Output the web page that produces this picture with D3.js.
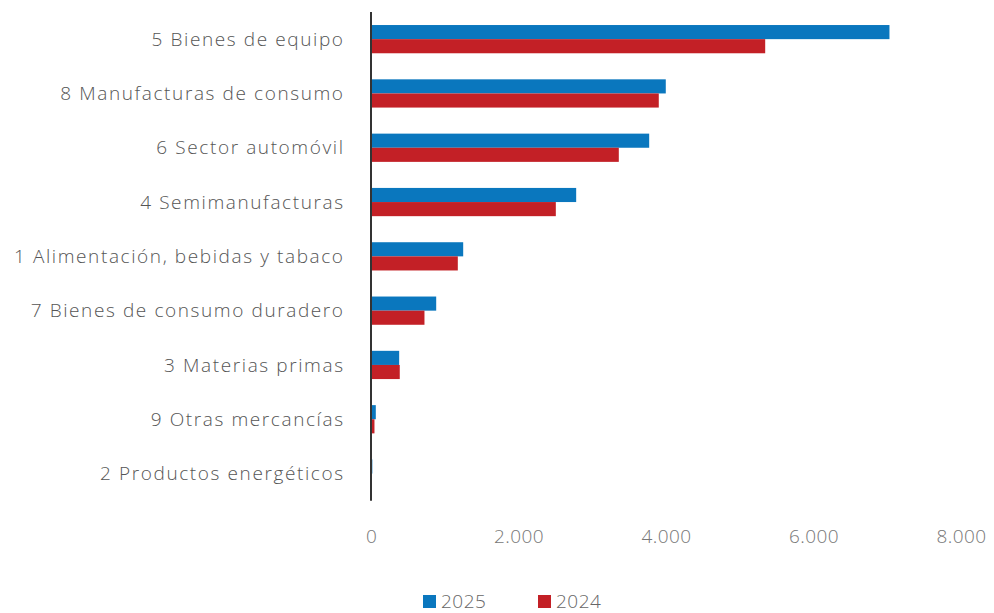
<!DOCTYPE html>
<html>
<head>
<meta charset="utf-8">
<script src="https://cdn.jsdelivr.net/npm/d3@7"></script>
<style>
  html, body { margin: 0; padding: 0; background: #fff; }
  svg text { font-family: "Open Sans", "Lato", sans-serif; font-weight: 300; }
</style>
</head>
<body>
<svg id="chart" width="994" height="613"></svg>
<script>
// Exportaciones por sector (millones de euros)
const categories = [
  "5 Bienes de equipo",
  "8 Manufacturas de consumo",
  "6 Sector automóvil",
  "4 Semimanufacturas",
  "1 Alimentación, bebidas y tabaco",
  "7 Bienes de consumo duradero",
  "3 Materias primas",
  "9 Otras mercancías",
  "2 Productos energéticos"
];
const seriesNames = ["2025", "2024"];
const values2025 = [7030, 3997, 3772, 2782, 1250, 884, 382, 65, 18];
const values2024 = [5345, 3902, 3360, 2506, 1177, 725, 390, 47, 3];
const tickValues = [0, 2000, 4000, 6000, 8000];
const colors = ["#0a77be", "#c32026"];

const svg = d3.select("#chart");
const x0 = 371, x1 = 961;
const yTop = 12, yBottom = 500.7;

const x = d3.scaleLinear().domain([0, 8000]).range([x0, x1]);
const y = d3.scaleBand().domain(categories).range([yTop, yBottom]).paddingInner(0.48).paddingOuter(0.24);
const ySub = d3.scaleBand().domain(seriesNames).range([0, y.bandwidth()]);

const rows = categories.map((c, i) => ({ cat: c, vals: [values2025[i], values2024[i]] }));

// Bars
const groups = svg.append("g").selectAll("g").data(rows).join("g")
  .attr("transform", d => `translate(0,${y(d.cat)})`);
groups.selectAll("rect").data(d => d.vals.map((v, j) => ({ v, j })))
  .join("rect")
  .attr("x", x(0))
  .attr("y", d => ySub(seriesNames[d.j]))
  .attr("width", d => x(d.v) - x(0))
  .attr("height", ySub.bandwidth())
  .attr("fill", d => colors[d.j]);

// Category labels
const labelSpacing = 1.6;
svg.append("g").selectAll("text").data(categories).join("text")
  .attr("x", 343 + labelSpacing)
  .attr("y", d => y(d) + y.bandwidth() / 2)
  .attr("dy", "0.35em")
  .attr("text-anchor", "end")
  .attr("font-size", 19)
  .attr("letter-spacing", labelSpacing)
  .attr("fill", "#555")
  .text(d => d);

// Zero line
svg.append("line")
  .attr("x1", x(0)).attr("x2", x(0))
  .attr("y1", yTop).attr("y2", yBottom)
  .attr("stroke", "#333").attr("stroke-width", 2);

// X axis tick labels
const fmt = d3.formatLocale({ decimal: ",", thousands: ".", grouping: [3], currency: ["", "€"] }).format(",d");
const xAxis = d3.axisBottom(x).tickValues(tickValues).tickFormat(fmt).tickSize(0).tickPadding(0);
const ax = svg.append("g").attr("transform", "translate(0,536)").call(xAxis);
ax.select(".domain").remove();
ax.selectAll("text")
  .attr("dy", "0.35em")
  .attr("font-size", 19)
  .attr("letter-spacing", 0.4)
  .attr("fill", "#777")
  .style("font-family", '"Open Sans", "Lato", sans-serif')
  .style("font-weight", 300);

// Legend
const legendX = [423, 538];
const lg = svg.append("g").selectAll("g").data(seriesNames).join("g")
  .attr("transform", (d, i) => `translate(${legendX[i]},595)`);
lg.append("rect").attr("width", 13).attr("height", 13).attr("fill", (d, i) => colors[i]);
lg.append("text")
  .attr("x", 18).attr("y", 6.5).attr("dy", "0.35em")
  .attr("font-size", 19).attr("letter-spacing", 0.5).attr("fill", "#666")
  .text(d => d);
</script>
</body>
</html>
